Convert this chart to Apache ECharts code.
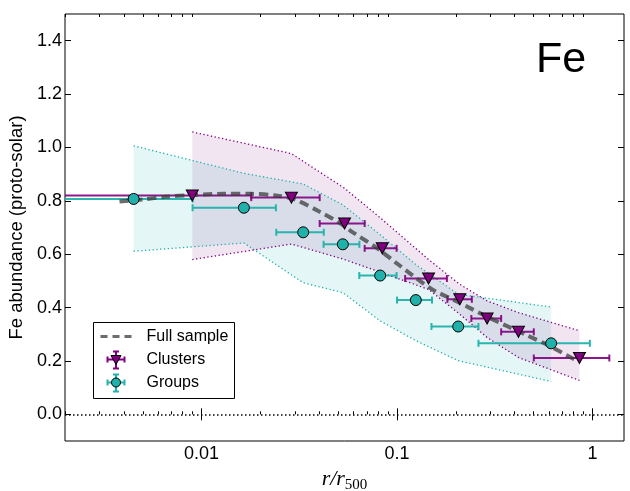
<!DOCTYPE html>
<html><head><meta charset="utf-8">
<script src="https://cdn.jsdelivr.net/npm/echarts@6/dist/echarts.min.js"></script>
<style>html,body{margin:0;padding:0;background:#fff}#c{width:630px;height:491px}</style>
</head><body><div id="c"></div>
<script>
// ---- data ----
const clusterR   = [0.00896, 0.0288, 0.0539, 0.084, 0.145, 0.2095, 0.289, 0.418, 0.858];
const clusterFe  = [0.820, 0.812, 0.715, 0.622, 0.509, 0.431, 0.359, 0.309, 0.211];
const clusterRlo = [0.0005, 0.01795, 0.0402, 0.0683, 0.110, 0.181, 0.240, 0.341, 0.501];
const clusterRhi = [0.01795, 0.0402, 0.0683, 0.0995, 0.180, 0.2415, 0.341, 0.501, 1.22];
const clusterUp  = [1.058, 0.977, 0.847, 0.730, 0.580, 0.487, 0.425, 0.381, 0.313];
const clusterLo  = [0.580, 0.638, 0.580, 0.530, 0.468, 0.375, 0.288, 0.213, 0.127];

const groupR   = [0.00449, 0.01646, 0.0331, 0.0528, 0.082, 0.1248, 0.2056, 0.6146];
const groupFe  = [0.807, 0.774, 0.682, 0.637, 0.520, 0.428, 0.329, 0.266];
const groupRlo = [0.0005, 0.00899, 0.0241, 0.0421, 0.0641, 0.100, 0.150, 0.261];
const groupRhi = [0.0090, 0.0240, 0.0422, 0.0642, 0.0995, 0.151, 0.261, 0.97];
const groupUp  = [1.006, 0.903, 0.863, 0.785, 0.673, 0.561, 0.450, 0.402];
const groupLo  = [0.611, 0.642, 0.493, 0.456, 0.350, 0.276, 0.201, 0.123];

const fullR  = [0.0038, 0.005, 0.0065, 0.009, 0.013, 0.018, 0.024, 0.030, 0.040, 0.05, 0.06, 0.08, 0.1, 0.15, 0.2, 0.3, 0.45, 0.6, 0.85];
const fullFe = [0.797, 0.805, 0.815, 0.822, 0.826, 0.826, 0.820, 0.805, 0.76, 0.72, 0.68, 0.62, 0.565, 0.47, 0.425, 0.36, 0.30, 0.257, 0.197];

const xMajor = [0.01, 0.1, 1];
const xMinor = [0.002,0.003,0.004,0.005,0.006,0.007,0.008,0.009,0.02,0.03,0.04,0.05,0.06,0.07,0.08,0.09,0.2,0.3,0.4,0.5,0.6,0.7,0.8,0.9];
const yTicks = [0.0, 0.2, 0.4, 0.6, 0.8, 1.0, 1.2, 1.4];

// ---- style ----
const PURPLE = '#800080';
const TEAL = '#20B2AA';
const FONT = 'Liberation Sans';

function fmtX(v){ if (Math.abs(v-1)<1e-9) return '1'; if (Math.abs(v-0.1)<1e-9) return '0.1'; if (Math.abs(v-0.01)<1e-9) return '0.01'; return ''; }

function bandRender(xs, up, lo, color){
  return function(params, api){
    if (params.dataIndex !== 0) return;
    const pts = [];
    for (let i=0;i<xs.length;i++) pts.push(api.coord([xs[i], up[i]]));
    for (let i=xs.length-1;i>=0;i--) pts.push(api.coord([xs[i], lo[i]]));
    return {type:'polygon', shape:{points:pts}, style:{fill:color, stroke:null}, silent:true};
  };
}
function errRender(color){
  return function(params, api){
    const y = api.value(1), lo = api.value(2), hi = api.value(3);
    const cs = params.coordSys;
    const p0 = api.coord([lo, y]), p1 = api.coord([hi, y]);
    const xl = Math.max(p0[0], cs.x), xr = Math.min(p1[0], cs.x + cs.width);
    const st = {stroke: color, lineWidth: 2};
    const ch = [{type:'line', shape:{x1:xl, y1:p0[1], x2:xr, y2:p0[1]}, style:st}];
    const cap = 3.5;
    if (p0[0] >= cs.x) ch.push({type:'line', shape:{x1:p0[0], y1:p0[1]-cap, x2:p0[0], y2:p0[1]+cap}, style:st});
    if (p1[0] <= cs.x + cs.width) ch.push({type:'line', shape:{x1:p1[0], y1:p1[1]-cap, x2:p1[0], y2:p1[1]+cap}, style:st});
    return {type:'group', children: ch};
  };
}

const xBase = {type:'log', logBase:10, min:0.002, max:1.45, splitLine:{show:false}, axisLine:{show:false}};
const yBase = {type:'value', min:-0.1, max:1.5, splitLine:{show:false}, axisLine:{show:false}};
const tickMaj = (vals)=>({show:true, inside:true, length:6, customValues: vals, lineStyle:{color:'#000', width:1}});
const tickMin = (vals)=>({show:true, inside:true, length:3, customValues: vals, lineStyle:{color:'#000', width:1}});

const chart = echarts.init(document.getElementById('c'), null, {renderer:'canvas'});
chart.setOption({
  animation: false,
  backgroundColor: '#fff',
  grid: [
    {left:65, right:6, top:14, bottom:50, show:true, borderColor:'#000', borderWidth:1, backgroundColor:'transparent', outerBoundsMode:'none', containLabel:false},
    {left:65, right:6, top:14, bottom:50, show:false, outerBoundsMode:'none', containLabel:false}
  ],
  xAxis: [
    Object.assign({}, xBase, {gridIndex:0, position:'bottom', axisTick: tickMaj(xMajor),
      axisLabel:{show:true, customValues: xMajor, formatter: fmtX, fontSize:18, color:'#000', fontFamily:FONT, margin:4},
      name:'{i|r/r}{s|500}', nameLocation:'middle', nameGap:22,
      nameTextStyle:{rich:{i:{fontFamily:'Liberation Serif', fontStyle:'italic', fontSize:22, color:'#000', lineHeight:24, verticalAlign:'top'},
                           s:{fontFamily:'Liberation Serif', fontSize:15, color:'#000', lineHeight:24, padding:[10,0,0,0], verticalAlign:'top'}}}}),
    Object.assign({}, xBase, {gridIndex:0, position:'top', axisTick: tickMaj(xMajor), axisLabel:{show:false}}),
    Object.assign({}, xBase, {gridIndex:1, position:'bottom', axisTick: tickMin(xMinor), axisLabel:{show:false}}),
    Object.assign({}, xBase, {gridIndex:1, position:'top', axisTick: tickMin(xMinor), axisLabel:{show:false}})
  ],
  yAxis: [
    Object.assign({}, yBase, {gridIndex:0, position:'left', axisTick: tickMaj(yTicks),
      axisLabel:{show:true, customValues: yTicks, formatter: v=>v.toFixed(1), fontSize:18, color:'#000', fontFamily:FONT, margin:3},
      name:'Fe abundance (proto-solar)', nameLocation:'middle', nameGap:36,
      nameTextStyle:{fontSize:18.5, color:'#000', fontFamily:FONT}}),
    Object.assign({}, yBase, {gridIndex:0, position:'right', axisTick: tickMaj(yTicks), axisLabel:{show:false}}),
    Object.assign({}, yBase, {gridIndex:1, show:false})
  ],
  series: [
    {type:'custom', xAxisIndex:0, yAxisIndex:0, data:[0], renderItem: bandRender(groupR, groupUp, groupLo, 'rgba(32,178,170,0.12)'), z:1},
    {type:'custom', xAxisIndex:0, yAxisIndex:0, data:[0], renderItem: bandRender(clusterR, clusterUp, clusterLo, 'rgba(128,0,128,0.10)'), z:1},
    {type:'line', xAxisIndex:0, yAxisIndex:0, data: groupR.map((x,i)=>[x, groupUp[i]]), symbol:'none', lineStyle:{color:TEAL, width:1.3, type:[1.3,2.5]}, z:2},
    {type:'line', xAxisIndex:0, yAxisIndex:0, data: groupR.map((x,i)=>[x, groupLo[i]]), symbol:'none', lineStyle:{color:TEAL, width:1.3, type:[1.3,2.5]}, z:2},
    {type:'line', xAxisIndex:0, yAxisIndex:0, data: clusterR.map((x,i)=>[x, clusterUp[i]]), symbol:'none', lineStyle:{color:PURPLE, width:1.3, type:[1.3,2.5]}, z:2},
    {type:'line', xAxisIndex:0, yAxisIndex:0, data: clusterR.map((x,i)=>[x, clusterLo[i]]), symbol:'none', lineStyle:{color:PURPLE, width:1.3, type:[1.3,2.5]}, z:2,
      markLine:{silent:true, symbol:'none', label:{show:false}, lineStyle:{color:'#000', width:1.5, type:[1.5,2.5]}, data:[{yAxis:0}]}},
    {type:'custom', xAxisIndex:0, yAxisIndex:0, data: clusterR.map((x,i)=>[x, clusterFe[i], clusterRlo[i], clusterRhi[i]]), encode:{x:0,y:1}, renderItem: errRender('rgba(128,0,128,0.9)'), z:3},
    {type:'custom', xAxisIndex:0, yAxisIndex:0, data: groupR.map((x,i)=>[x, groupFe[i], groupRlo[i], groupRhi[i]]), encode:{x:0,y:1}, renderItem: errRender('rgba(32,178,170,0.95)'), z:3},
    {type:'line', xAxisIndex:0, yAxisIndex:0, data: fullR.map((x,i)=>[x, fullFe[i]]), symbol:'none', smooth:0.3,
      lineStyle:{color:'rgba(60,60,60,0.75)', width:4, type:[9,5]}, z:4},
    {type:'scatter', xAxisIndex:0, yAxisIndex:0, data: clusterR.map((x,i)=>[x, clusterFe[i]]), symbol:'triangle', symbolRotate:180, symbolSize:[12,11],
      itemStyle:{color:PURPLE, borderColor:'#000', borderWidth:1, opacity:1}, z:5},
    {type:'scatter', xAxisIndex:0, yAxisIndex:0, data: groupR.map((x,i)=>[x, groupFe[i]]), symbol:'circle', symbolSize:11,
      itemStyle:{color:TEAL, borderColor:'#000', borderWidth:1, opacity:1}, z:5}
  ],
  graphic: [
    {type:'text', left:536, top:39, style:{text:'Fe', fontSize:43, fontFamily:FONT, fill:'#000'}, z:10},
    {type:'group', left:93, top:322, z:10, children:[
      {type:'rect', shape:{x:0, y:0, width:141, height:76}, style:{fill:'#fff', stroke:'#000', lineWidth:1}},
      {type:'line', shape:{x1:7, y1:14, x2:40, y2:14}, style:{stroke:'rgba(60,60,60,0.75)', lineWidth:3, lineDash:[7,5]}},
      {type:'text', x:53, y:14, style:{text:'Full sample', fontSize:16, fontFamily:FONT, fill:'#000', verticalAlign:'middle'}},
      {type:'line', shape:{x1:14, y1:37, x2:31, y2:37}, style:{stroke:PURPLE, lineWidth:2}},
      {type:'line', shape:{x1:22.5, y1:29, x2:22.5, y2:46}, style:{stroke:PURPLE, lineWidth:2}},
      {type:'line', shape:{x1:14, y1:34, x2:14, y2:40}, style:{stroke:PURPLE, lineWidth:2}},
      {type:'line', shape:{x1:31, y1:34, x2:31, y2:40}, style:{stroke:PURPLE, lineWidth:2}},
      {type:'line', shape:{x1:19.5, y1:29, x2:25.5, y2:29}, style:{stroke:PURPLE, lineWidth:2}},
      {type:'line', shape:{x1:19.5, y1:46, x2:25.5, y2:46}, style:{stroke:PURPLE, lineWidth:2}},
      {type:'polygon', shape:{points:[[17.5,33],[27.5,33],[22.5,42]]}, style:{fill:PURPLE, stroke:'#000', lineWidth:1}},
      {type:'text', x:53, y:37, style:{text:'Clusters', fontSize:16, fontFamily:FONT, fill:'#000', verticalAlign:'middle'}},
      {type:'line', shape:{x1:14, y1:60, x2:31, y2:60}, style:{stroke:TEAL, lineWidth:2}},
      {type:'line', shape:{x1:22.5, y1:52, x2:22.5, y2:69}, style:{stroke:TEAL, lineWidth:2}},
      {type:'line', shape:{x1:14, y1:57, x2:14, y2:63}, style:{stroke:TEAL, lineWidth:2}},
      {type:'line', shape:{x1:31, y1:57, x2:31, y2:63}, style:{stroke:TEAL, lineWidth:2}},
      {type:'line', shape:{x1:19.5, y1:52, x2:25.5, y2:52}, style:{stroke:TEAL, lineWidth:2}},
      {type:'line', shape:{x1:19.5, y1:69, x2:25.5, y2:69}, style:{stroke:TEAL, lineWidth:2}},
      {type:'circle', shape:{cx:22.5, cy:60, r:4.5}, style:{fill:TEAL, stroke:'#000', lineWidth:1}},
      {type:'text', x:53, y:60, style:{text:'Groups', fontSize:16, fontFamily:FONT, fill:'#000', verticalAlign:'middle'}}
    ]}
  ]
});
</script></body></html>
